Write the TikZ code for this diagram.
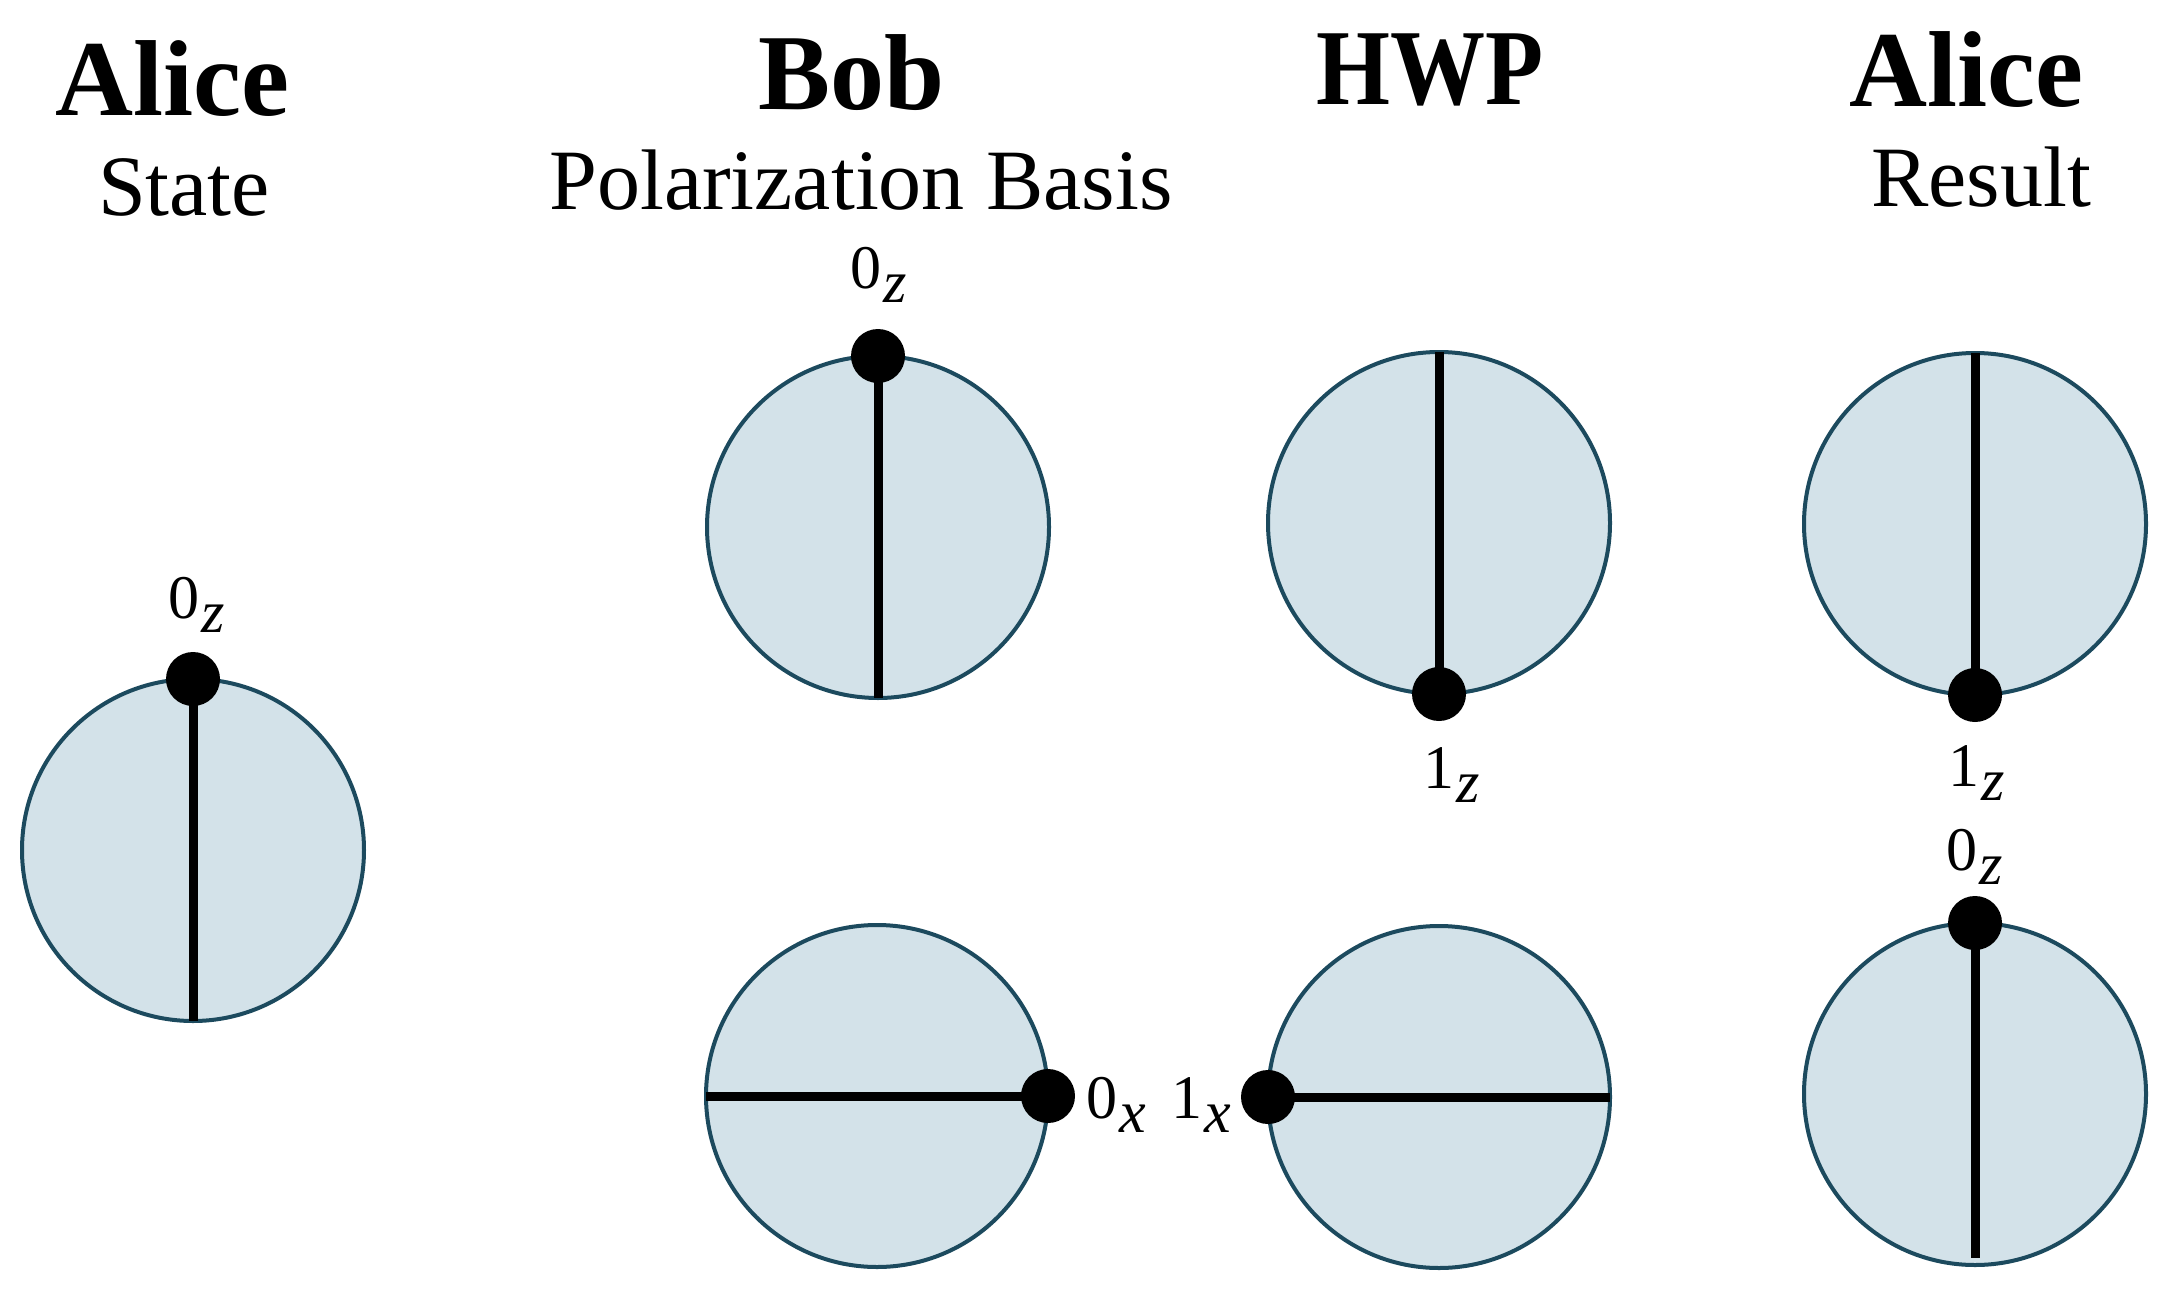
\documentclass[tikz,border=0pt]{standalone}
\usepackage{fontspec}
\setmainfont{Liberation Serif}
\pgfdeclareradialshading{ballglow}{\pgfpoint{0bp}{0bp}}{%
  rgb(0bp)=(0.827,0.886,0.914);
  rgb(45bp)=(0.827,0.886,0.914);
  rgb(48bp)=(0.95,0.975,0.985);
  rgb(49.3bp)=(0.88,0.93,0.95);
  rgb(50bp)=(0.827,0.886,0.914)}
\definecolor{rim}{RGB}{28,74,94}
\newcommand\qlab[2]{#1\hspace{1pt}\raisebox{-7pt}{\fontsize{30}{32}\selectfont\itshape #2}}
\tikzset{
  ball/.style={circle, draw=rim, line width=2pt, shade, shading=ballglow,
    minimum size=171pt, inner sep=0pt, outer sep=0pt},
  pdot/.style={circle, fill=black, inner sep=0pt, minimum size=27pt},
  axis/.style={line width=4.5pt, black},
  ttl/.style={font=\fontsize{54}{60}\selectfont\bfseries, anchor=base, inner sep=0pt},
  sub/.style={font=\fontsize{43}{48}\selectfont, anchor=base, inner sep=0pt},
  lab/.style={font=\fontsize{31}{33}\selectfont, anchor=base west, inner sep=0pt}
}
\begin{document}
\begin{tikzpicture}[x=0.5pt,y=-0.5pt]
\useasboundingbox (0,0) rectangle (2172,1289);
% titles
\node[ttl] (t1) at (172,116) {Alice};
\node[sub] (s1) at (184,216) {State};
\node[ttl] (t2) at (852,110) {Bob};
\node[sub] (s2) at (861,210) {Polarization Basis};
\node[ttl] (t3) at (1430,105) {\scalebox{0.88}[1]{HWP}};
\node[ttl] (t4) at (1966,107) {Alice};
\node[sub] (s4) at (1981,207) {Result};
% circles
\node[ball] (A)  at (193,850) {};
\node[ball] (B1) at (878,527) {};
\node[ball] (B2) at (877,1096) {};
\node[ball] (H1) at (1439,523) {};
\node[ball] (H2) at (1439,1097) {};
\node[ball] (R1) at (1975,524) {};
\node[ball] (R2) at (1975,1094) {};
% dots
\node[pdot] (dA)  at (A.north) {};
\node[pdot] (dB1) at (B1.north) {};
\node[pdot] (dB2) at (B2.east) {};
\node[pdot] (dH1) at (H1.south) {};
\node[pdot] (dH2) at (H2.west) {};
\node[pdot] (dR1) at (R1.south) {};
\node[pdot] (dR2) at (R2.north) {};
% axes
\draw[axis] (dA.center) -- (A.south);
\draw[axis] (dB1.center) -- (B1.south);
\draw[axis] (B2.west) -- (dB2.center);
\draw[axis] (H1.north) -- (dH1.center);
\draw[axis] (dH2.center) -- (H2.east);
\draw[axis] (R1.north) -- (dR1.center);
\draw[axis, shorten >=3.5pt] (dR2.center) -- (R2.south);
% labels
\node[lab] (lA)  at (168,618)  {\qlab{0}{z}};
\node[lab] (lB1) at (850,288)  {\qlab{0}{z}};
\node[lab] (lH1) at (1423,788) {\qlab{1}{z}};
\node[lab] (lR1) at (1948,786) {\qlab{1}{z}};
\node[lab] (lR2) at (1946,870) {\qlab{0}{z}};
\node[lab] (lB2) at (1086,1118) {\qlab{0}{x}};
\node[lab] (lH2) at (1171,1118) {\qlab{1}{x}};
\end{tikzpicture}
\end{document}
